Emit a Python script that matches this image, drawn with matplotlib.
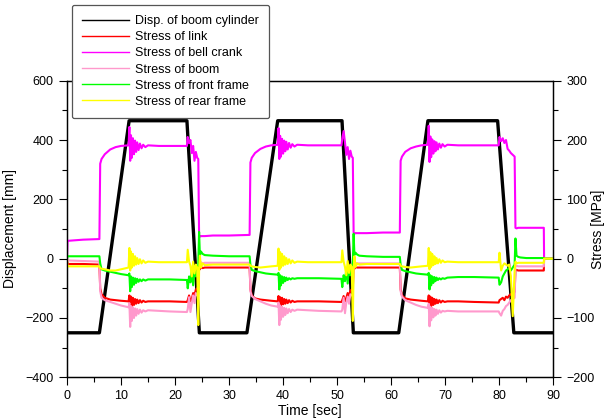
import matplotlib
matplotlib.use("Agg")
import matplotlib.pyplot as plt
from matplotlib.lines import Line2D
from matplotlib.ticker import MultipleLocator

plt.rcParams['font.family'] = ['Liberation Sans', 'DejaVu Sans']
plt.rcParams['font.size'] = 9

# ---------------- data ----------------
# Displacement of boom cylinder [mm] (left axis)
t_disp = [0.0, 6.0, 11.5, 22.2, 24.5, 33.3, 39.0, 50.9, 53.0, 61.4, 66.8, 79.7, 82.7, 90.0]
disp = [-250, -250, 465, 465, -250, -250, 465, 465, -250, -250, 465, 465, -250, -250]

# Common time base for stresses [sec]
t_stress = [
    0.0, 0.1, 3.0, 6.0, 6.15, 6.4, 7.0, 8.0, 9.0, 10.0, 11.4,
    11.55, 11.7, 11.85, 12.0, 12.2, 12.4, 12.6, 12.8, 13.0, 13.25, 13.5, 13.8, 14.1, 14.5, 15.0, 17.0, 19.0, 22.2,
    22.35, 22.6, 22.85, 23.1, 23.35, 23.6, 23.85, 24.1, 24.3, 24.45, 24.6, 24.8, 25.1, 25.5, 27.0, 30.0, 33.8,
    33.95, 34.2, 34.8, 35.8, 36.8, 37.8, 39.0,
    39.15, 39.3, 39.45, 39.6, 39.8, 40.0, 40.2, 40.4, 40.6, 40.85, 41.1, 41.4, 41.7, 42.1, 42.6, 44.6, 46.6, 50.8,
    50.95, 51.2, 51.45, 51.7, 51.95, 52.2, 52.45, 52.7, 52.9, 53.05, 53.2, 53.4, 53.7, 54.1, 55.5, 58.5, 61.6,
    61.75, 62.0, 62.6, 63.6, 64.6, 65.6, 66.8,
    66.95, 67.1, 67.25, 67.4, 67.6, 67.8, 68.0, 68.2, 68.4, 68.65, 68.9, 69.2, 69.5, 69.9, 70.4, 72.4, 75.4, 79.9,
    80.05, 80.35, 80.65, 80.95, 81.25, 81.55, 81.85, 82.15, 82.5, 82.85, 83.0, 83.2, 83.5, 83.9, 85.0, 87.0, 88.25,
    88.3, 90.0,
]

# Stress of link [MPa]
s_link = [
    0, -9, -9, -10, -50, -60, -66, -69, -70, -71, -72,
    -62, -82, -64, -80, -66, -78, -68, -76, -69, -75, -70, -74, -71, -73, -72, -72, -72, -73,
    -70, -62, -72, -68, -58, -62, -52, -50, -48, -14, -18, -14, -16, -15, -15, -15, -15,
    -52, -62, -67, -69, -70, -71, -72,
    -63, -81, -65, -79, -66, -77, -68, -76, -69, -75, -70, -74, -71, -73, -72, -72, -72, -73,
    -70, -63, -72, -66, -58, -63, -54, -52, -50, -15, -17, -14, -15, -15, -15, -15, -15,
    -52, -62, -67, -69, -70, -71, -72,
    -62, -82, -64, -80, -66, -78, -68, -76, -69, -75, -70, -74, -71, -73, -72, -72, -73, -74,
    -70, -68, -66, -70, -64, -66, -62, -60, -58, -56, -20, -19, -20, -20, -20, -20, -20,
    0, 0,
]

# Stress of bell crank [MPa]
s_bell = [
    0, 30, 32, 33, 160, 168, 176, 184, 188, 190, 191,
    222, 165, 208, 170, 203, 176, 199, 180, 196, 183, 194, 186, 192, 188, 191, 190, 190, 190,
    205, 195, 200, 178, 190, 165, 180, 170, 168, 40, 37, 38, 38, 38, 39, 39, 40,
    162, 170, 178, 185, 189, 191, 192,
    220, 168, 207, 172, 202, 177, 199, 181, 197, 184, 195, 187, 193, 189, 192, 191, 191, 191,
    202, 215, 196, 175, 188, 168, 182, 172, 170, 44, 42, 43, 43, 43, 43, 44, 44,
    165, 172, 180, 186, 189, 191, 192,
    224, 163, 206, 171, 201, 177, 198, 181, 196, 184, 194, 187, 193, 189, 192, 191, 191, 191,
    205, 198, 203, 195, 200, 185, 182, 178, 175, 172, 52, 51, 52, 52, 52, 52, 52,
    0, 0,
]

# Stress of boom [MPa]
s_boom = [
    0, -3, -4, -5, -55, -66, -70, -73, -76, -79, -82,
    -75, -115, -80, -105, -82, -100, -84, -96, -85, -93, -86, -91, -87, -89, -87, -88, -89, -90,
    -85, -65, -90, -75, -62, -75, -58, -62, -60, -8, -12, -6, -8, -7, -7, -7, -7,
    -55, -63, -68, -72, -76, -79, -81,
    -74, -112, -79, -103, -81, -98, -83, -95, -84, -92, -85, -90, -86, -88, -86, -87, -88, -89,
    -86, -66, -92, -74, -64, -76, -60, -62, -60, -8, -11, -7, -8, -8, -8, -8, -8,
    -55, -64, -70, -74, -78, -81, -83,
    -76, -114, -81, -104, -83, -99, -85, -96, -86, -93, -87, -91, -88, -89, -88, -89, -89, -89,
    -92, -96, -88, -85, -80, -78, -74, -70, -68, -66, -13, -12, -13, -13, -13, -13, -13,
    0, 0,
]

# Stress of front frame [MPa]
s_front = [
    0, 4, 4, 4, -8, -18, -20, -22, -24, -26, -28,
    -25, -55, -30, -48, -32, -44, -33, -41, -34, -39, -35, -38, -35, -37, -35, -35, -35, -36,
    -50, -30, -40, -20, -45, -15, -30, -20, -10, 45, 5, 12, 8, 6, 5, 4, 4,
    -10, -19, -21, -23, -25, -26, -27,
    -24, -52, -28, -45, -30, -41, -31, -38, -32, -36, -33, -35, -33, -34, -33, -33, -33, -34,
    -48, -28, -38, -18, -42, -14, -28, -18, -8, 42, 6, 10, 7, 5, 4, 3, 3,
    -10, -19, -21, -23, -25, -26, -27,
    -24, -52, -28, -45, -30, -41, -31, -38, -32, -36, -33, -35, -33, -34, -32, -31, -31, -32,
    -44, -40, -30, -25, -20, -18, -15, -20, -15, -10, 34, 5, 3, 2, 1, 1, 1,
    0, 0,
]

# Stress of rear frame [MPa]
s_rear = [
    0, -13, -13, -13, -16, -17, -18, -20, -20, -18, -15,
    18, -20, 12, -15, 8, -12, 4, -10, 1, -9, -1, -8, -3, -7, -5, -6, -6, -6,
    15, -5, -12, -30, -5, -25, -10, -15, -112, -20, 5, -15, -8, -11, -10, -10, -10,
    -12, -13, -14, -15, -14, -13, -12,
    17, -19, 11, -15, 8, -12, 4, -10, 1, -9, -1, -8, -3, -7, -5, -6, -6, -6,
    14, -5, -14, -28, -4, -24, -10, -14, -105, -18, 4, -14, -8, -10, -9, -9, -9,
    -12, -13, -14, -15, -14, -13, -12,
    18, -18, 11, -14, 8, -11, 4, -9, 1, -8, -1, -7, -3, -6, -5, -6, -6, -6,
    10, -20, -12, -8, -10, -12, -10, -30, -97, -20, -5, -8, -7, -7, -7, -7, -7,
    0, 0,
]

labels = ["Disp. of boom cylinder", "Stress of link", "Stress of bell crank",
          "Stress of boom", "Stress of front frame", "Stress of rear frame"]
colors = ["#000000", "#FF0000", "#FF00FF", "#FF99CC", "#00FF00", "#FFFF00"]

# ---------------- figure ----------------
fig = plt.figure(figsize=(6.05, 4.2), dpi=100)
ax1 = fig.add_axes([0.1107, 0.1017, 0.8038, 0.7062])
ax2 = ax1.twinx()

ax1.plot(t_disp, disp, color=colors[0], lw=2.4)
stress_series = [s_link, s_bell, s_boom, s_front, s_rear]
for s, c in zip(stress_series, colors[1:]):
    ax2.plot(t_stress, s, color=c, lw=1.5)

ax1.set_xlim(0, 90)
ax1.set_ylim(-400, 600)
ax2.set_ylim(-200, 300)

ax1.xaxis.set_major_locator(MultipleLocator(10))
ax1.xaxis.set_minor_locator(MultipleLocator(5))
ax1.yaxis.set_major_locator(MultipleLocator(200))
ax1.yaxis.set_minor_locator(MultipleLocator(100))
ax2.yaxis.set_major_locator(MultipleLocator(100))
ax2.yaxis.set_minor_locator(MultipleLocator(50))

for ax in (ax1, ax2):
    ax.tick_params(which='major', length=6, width=0.8, direction='out', labelsize=9)
    ax.tick_params(which='minor', length=3.5, width=0.8, direction='out')
    for sp in ax.spines.values():
        sp.set_linewidth(0.9)

ax1.set_xlabel("Time [sec]", fontsize=10, labelpad=1)
ax1.set_ylabel("Displacement [mm]", fontsize=10)
ax2.set_ylabel("Stress [MPa]", fontsize=10)
ax1.yaxis.set_label_coords(-0.103, 0.5)
ax2.yaxis.set_label_coords(1.078, 0.5)

handles = [Line2D([0], [0], color=c, lw=1.0) for c in colors]
leg = fig.legend(handles, labels, loc='upper left', bbox_to_anchor=(0.1185, 0.989),
                 borderaxespad=0, fontsize=9, handlelength=3.7, handletextpad=0.5,
                 labelspacing=0.33, borderpad=0.85, fancybox=True, framealpha=1,
                 edgecolor='#555555')
leg.get_frame().set_linewidth(0.9)
leg.set_zorder(10)

fig.savefig("out.png", dpi=100)
